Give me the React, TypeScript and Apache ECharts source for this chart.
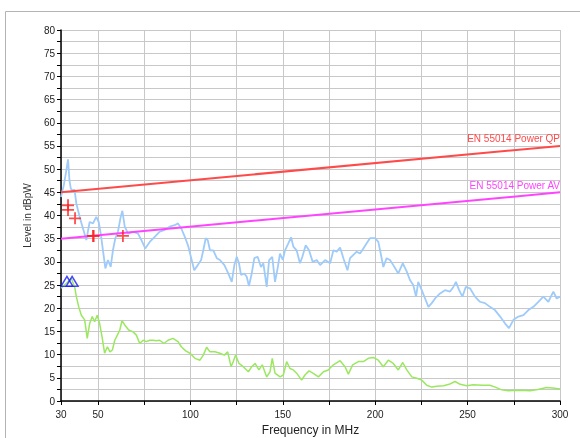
import React, { useEffect, useRef } from "react";
import * as echarts from "echarts";

const xTickValues = [30, 50, 75, 100, 125, 150, 175, 200, 225, 250, 275, 300];
const xLabelValues = [30, 50, 100, 150, 200, 250, 300];

const qpLimit = [[30, 45], [300, 55]];
const avLimit = [[30, 35], [300, 45]];

const qpMarkers = [[33.8, 42.2], [33.8, 41.2], [37.6, 39.4], [47.3, 35.6], [47.7, 35.6], [63.5, 35.6]];
const avMarkers = [[33.2, 25.8], [36.0, 25.8]];

const bluePeak = [
  [30, 44.0], [31.5, 46.5], [32.8, 49.5], [33.8, 52.1], [34.6, 47.5], [35.3, 45.8], [36.5, 45.3], [37.3, 45.6],
  [38.3, 42.6], [40.1, 39.7], [41.9, 37.2], [43.7, 34.7], [45.5, 38.6], [47.3, 38.3], [49.1, 39.7], [50.4, 38.6],
  [51.5, 36.1], [52.7, 32.5], [54, 28.6], [55.4, 30.4], [56.9, 28.9], [58.1, 32.5], [59.4, 35.1], [60.8, 36.5],
  [62.3, 39.7], [63.2, 41.0], [64.5, 37.6], [66.3, 36.1], [69, 36.5], [71.7, 36.1], [73.5, 34.7], [75.6, 32.9],
  [78, 34.3], [80.7, 35.4], [83.4, 36.5], [86.1, 36.9], [88.8, 37.6], [91.5, 37.9], [93.3, 38.3], [95.1, 37.2],
  [97.4, 35.0], [98.9, 33.3], [100.7, 30.4], [102.1, 28.2], [104, 29.3], [105.8, 30.4], [107, 32.5], [108.3, 35.1],
  [109.4, 34.7], [110.6, 32.5], [112.4, 32.5], [114.3, 30.8], [116, 30.4], [118.4, 29.3], [120.5, 27.5], [122.4, 25.7],
  [123.8, 29.3], [125.1, 31.1], [126.3, 29.7], [127.4, 27.2], [129.2, 27.5], [130.5, 26.8], [131.7, 24.8], [133.2, 27.5],
  [134.6, 30.8], [136.4, 31.1], [138.2, 28.9], [139.5, 29.7], [141.3, 24.6], [142.6, 30.4], [144.3, 31.1], [145.8, 25.7],
  [147.2, 28.6], [148.5, 31.8], [150, 30.4], [151.2, 32.5], [153, 34], [154.5, 35.3], [155.7, 33.3], [157.5, 32.5],
  [159.3, 29.7], [160.6, 31.1], [162.4, 33.6], [164.2, 32.5], [166.2, 30.0], [168.4, 30.4], [170.2, 29.3], [172.9, 30.4],
  [175.6, 29.7], [177.4, 32.5], [179.2, 32.2], [181, 33.1], [182.8, 30.8], [185, 28.2], [186.4, 30.8], [188.2, 31.5],
  [190, 32.2], [191.8, 31.8], [193.6, 32.9], [195.4, 34.0], [197.2, 35.1], [199.9, 35.1], [201.7, 34.3], [203, 31.8],
  [204.4, 28.9], [206.2, 30.8], [208, 30.4], [209.8, 29.3], [212.5, 27.5], [214.9, 29.7], [217.1, 27.9], [218.8, 26.1],
  [220.6, 25.0], [222.1, 22.5], [223.3, 25.7], [225.2, 23.9], [227, 22.1], [228.8, 20.3], [230.6, 21.1], [232.8, 22.3],
  [235.1, 23.2], [237.8, 23.9], [240.5, 23.6], [242.3, 24.6], [243.7, 25.7], [245.4, 23.9], [247.2, 22.5], [249, 24.6],
  [251.3, 24.3], [254, 22.5], [256.7, 21.4], [259.4, 21.1], [262.1, 20.3], [264.8, 19.6], [267.6, 18.2], [270.3, 16.7],
  [272.4, 15.7], [274.8, 17.5], [277.5, 18.2], [280.2, 18.5], [282.9, 19.6], [285.6, 20.3], [288.3, 21.4], [291, 22.5],
  [293.7, 21.4], [296.4, 23.6], [298.2, 22.1], [300, 22.5],
];

const greenAverage = [
  [30, 24.3], [32.9, 25.4], [35.6, 26.4], [37.4, 24.6], [38.3, 22.5], [39.6, 20.3], [41, 18.5], [42.8, 17.5],
  [44.2, 13.5], [45.5, 16.7], [46.9, 18.2], [48.2, 17.1], [49.6, 18.5], [50.9, 16.7], [52.2, 13.9], [53.6, 10.3],
  [55.1, 11.7], [56.5, 10.6], [57.8, 11.0], [59.1, 13.1], [60.5, 14.2], [61.8, 15.3], [63, 17.3], [64.5, 16.4],
  [66.6, 15.3], [69, 14.9], [70.8, 14.2], [72.6, 12.4], [74.4, 13.1], [76.2, 12.8], [78, 13.1], [79.8, 13.1],
  [81.6, 13.0], [83.4, 13.1], [85.7, 12.4], [87.9, 13.1], [90.6, 13.5], [93.3, 12.8], [95.1, 11.7], [97.5, 10.8],
  [99.8, 10.3], [102.5, 9.2], [105.2, 8.8], [107, 9.9], [108.8, 11.6], [110.6, 10.6], [113.3, 10.6], [116, 10.3],
  [118.4, 9.9], [120.2, 10.6], [122, 7.4], [123.2, 8.5], [124.5, 9.9], [126.3, 8.1], [128.6, 7.4], [131.4, 6.3],
  [133.2, 7.4], [135, 8.1], [137.1, 6.7], [138.9, 7.8], [141.3, 5.2], [143.1, 6.3], [144.3, 9.2], [145.8, 6.0],
  [148.5, 5.2], [150.3, 5.6], [152.1, 8.5], [153.9, 7.0], [155.7, 6.7], [157.5, 6.0], [160.2, 4.5], [162, 5.6],
  [164.2, 6.5], [166.3, 6.0], [169.3, 5.2], [172, 6.3], [174.6, 6.7], [177.4, 7.8], [181, 8.7], [183.7, 7.4],
  [185.5, 5.8], [187.8, 7.8], [190.9, 8.5], [193.6, 8.5], [196.3, 9.2], [199, 9.4], [201.7, 8.8], [204.4, 7.4],
  [207.1, 8.8], [209.8, 8.1], [212.5, 6.7], [214.9, 8.3], [217.1, 6.7], [219.8, 5.2], [222.5, 4.9], [225.2, 4.5],
  [227.9, 3.4], [230.6, 3.0], [233.3, 3.2], [237, 3.3], [240, 3.6], [243.2, 4.2], [246, 3.6], [249.5, 3.3],
  [253, 3.5], [258, 3.4], [262, 3.4], [265, 3.0], [268.4, 2.4], [272, 2.2], [278, 2.3], [283.8, 2.2],
  [288, 2.5], [292.8, 2.9], [296, 2.8], [300, 2.6],
];

const FONT = "'Liberation Sans', Arial, sans-serif";

export default function App() {
  const ref = useRef<HTMLDivElement>(null);
  useEffect(() => {
    if (!ref.current) return;
    const chart = echarts.init(ref.current, undefined, { renderer: "svg" });
    const limitSeries = (name: string, data: number[][], color: string) => ({
      name,
      type: "line",
      data: data.map((d, i) =>
        i === data.length - 1
          ? {
              value: d,
              label: {
                show: true,
                formatter: name,
                position: "top",
                align: "right",
                distance: 2,
                color,
                fontSize: 10,
                fontFamily: FONT,
              },
            }
          : { value: d }
      ),
      showSymbol: true,
      symbol: "circle",
      symbolSize: 0,
      itemStyle: { color },
      lineStyle: { color, width: 2 },
      z: 3,
    });
    chart.setOption({
      animation: false,
      grid: { left: 61, top: 30, right: 20, bottom: 37, containLabel: false, outerBoundsMode: "none" },
      graphic: [
        {
          type: "line",
          shape: { x1: 5.5, y1: 11.5, x2: 580, y2: 11.5 },
          style: { stroke: "#b4b4b4", lineWidth: 1 },
          z: -10,
          silent: true,
        },
        {
          type: "line",
          shape: { x1: 5.5, y1: 11.5, x2: 5.5, y2: 438 },
          style: { stroke: "#b4b4b4", lineWidth: 1 },
          z: -10,
          silent: true,
        },
      ],
      xAxis: {
        type: "value",
        min: 30,
        max: 300,
        name: "Frequency in MHz",
        nameLocation: "middle",
        nameGap: 23,
        nameTextStyle: { fontSize: 12, color: "#222", fontFamily: FONT },
        axisLine: { show: true, onZero: false, lineStyle: { color: "#000", width: 1.5 } },
        axisTick: { show: true, length: 4, customValues: xTickValues, lineStyle: { color: "#000" } },
        axisLabel: { customValues: xLabelValues, fontSize: 10, color: "#222", margin: 8, fontFamily: FONT },
        splitLine: { show: true, lineStyle: { color: "#c8c8c8", width: 1 } },
      },
      yAxis: {
        type: "value",
        min: 0,
        max: 80,
        interval: 2.5,
        name: "Level in dBpW",
        nameLocation: "middle",
        nameGap: 24,
        nameTextStyle: { fontSize: 10, color: "#333", fontFamily: FONT },
        axisLine: { show: true, lineStyle: { color: "#000", width: 1.5 } },
        axisTick: { show: true, length: 4, lineStyle: { color: "#000" } },
        axisLabel: {
          fontSize: 10,
          color: "#222",
          margin: 6,
          fontFamily: FONT,
          formatter: (v: number) => (v % 5 === 0 ? String(v) : ""),
        },
        splitLine: { show: true, lineStyle: { color: "#c8c8c8", width: 1 } },
      },
      series: [
        {
          name: "Peak",
          type: "line",
          data: bluePeak,
          showSymbol: false,
          symbol: "none",
          lineStyle: { color: "#9ecbfa", width: 1.8 },
          z: 2,
        },
        {
          name: "Average",
          type: "line",
          data: greenAverage,
          showSymbol: false,
          symbol: "none",
          lineStyle: { color: "#9be860", width: 1.5 },
          z: 2,
        },
        limitSeries("EN 55014 Power QP", qpLimit, "#ff4a4a"),
        limitSeries("EN 55014 Power AV", avLimit, "#ff44ff"),
        {
          name: "QP markers",
          type: "scatter",
          data: qpMarkers,
          symbol: "path://M0,6L12,6M6,0L6,12",
          symbolSize: 12,
          itemStyle: { color: "#ff2020", borderColor: "#ff2020", borderWidth: 1.8 },
          z: 5,
        },
        {
          name: "AV markers",
          type: "scatter",
          data: avMarkers,
          symbol: "triangle",
          symbolSize: [12, 10],
          itemStyle: { color: "transparent", borderColor: "#1a1aff", borderWidth: 1.4 },
          z: 5,
        },
      ],
    });
    return () => chart.dispose();
  }, []);
  return <div ref={ref} style={{ position: "fixed", left: 0, top: 0, width: 580, height: 438 }} />;
}
